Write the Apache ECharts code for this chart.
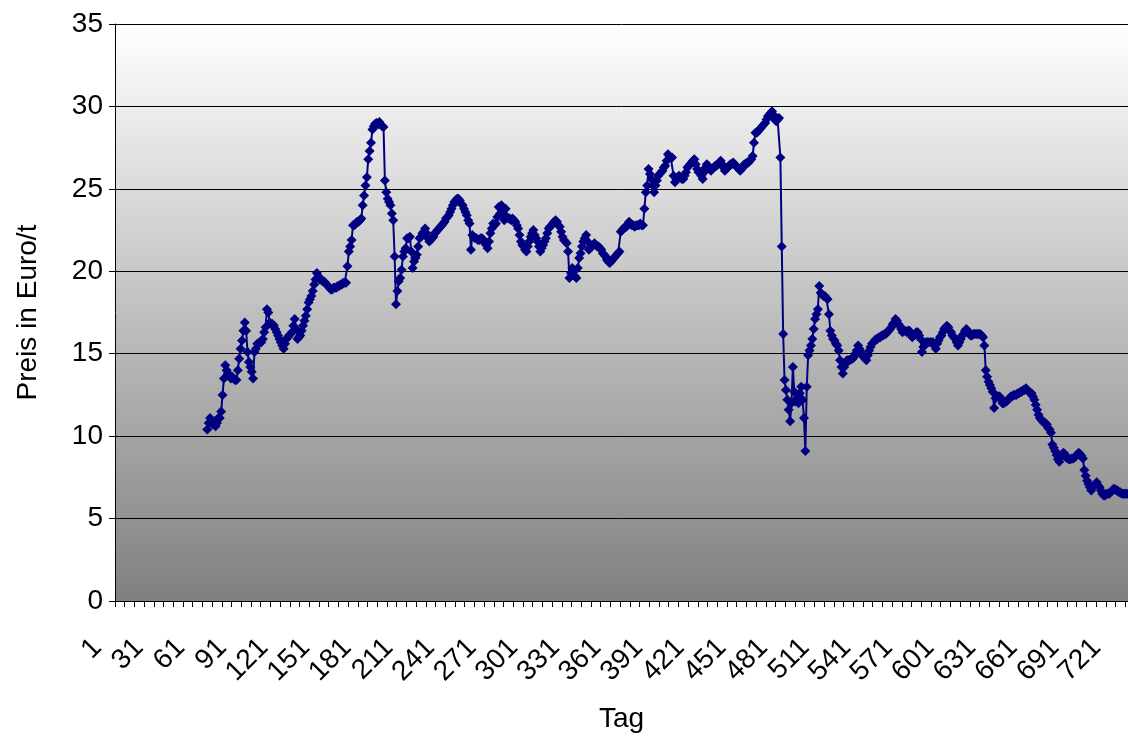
<!DOCTYPE html>
<html><head><meta charset="utf-8">
<script src="https://cdn.jsdelivr.net/npm/echarts@6/dist/echarts.min.js"></script>
<style>html,body{margin:0;padding:0;background:#fff}#c{width:1128px;height:742px}</style>
</head><body><div id="c"></div>
<script>
const lastDay = 730;
const dataStartDay = 67;
const yTicks = [0, 5, 10, 15, 20, 25, 30, 35];
const prices = [
10.4,10.8,11.1,10.9,10.7,10.9,10.6,10.8,11.1,11.1,
11.5,12.5,13.5,14.3,14.0,13.8,13.7,13.5,13.6,13.5,
13.4,13.4,14.0,14.7,15.3,15.8,16.4,16.9,16.4,15.1,
14.5,14.2,13.9,13.5,15.1,15.3,15.6,15.6,15.7,15.7,
15.9,16.3,16.6,17.7,17.5,16.9,16.8,16.8,16.7,16.5,
16.3,16.1,15.9,15.7,15.5,15.3,15.6,15.9,16.0,16.1,
16.2,16.3,16.7,17.1,16.5,15.9,16.0,16.1,16.4,16.7,
17.0,17.3,17.7,18.1,18.3,18.5,18.8,19.2,19.5,19.9,
19.7,19.5,19.5,19.4,19.4,19.3,19.2,19.1,19.0,18.9,
18.9,19.0,19.0,19.0,19.1,19.1,19.2,19.2,19.3,19.3,
19.3,20.3,21.2,21.5,21.9,22.8,22.8,22.9,23.0,23.0,
23.1,23.2,24.0,24.6,25.2,25.7,26.8,27.3,27.8,28.6,
28.8,28.95,29.0,28.9,29.05,28.9,28.8,28.75,25.5,24.8,
24.4,24.2,24.0,23.5,23.1,20.9,18.0,18.8,19.4,19.6,
20.1,20.9,21.2,21.4,22.0,22.0,22.1,21.2,20.2,20.6,
20.8,21.0,21.5,22.0,22.1,22.3,22.4,22.6,22.3,22.0,
21.8,21.9,22.0,22.1,22.3,22.4,22.5,22.6,22.7,22.8,
22.9,23.0,23.2,23.3,23.4,23.6,23.8,24.0,24.2,24.3,
24.4,24.4,24.3,24.1,24.0,23.8,23.6,23.4,23.1,22.9,
21.3,22.2,22.1,22.0,22.0,21.9,21.9,22.0,22.0,21.9,
21.7,21.6,21.4,21.8,22.3,22.6,22.9,22.8,22.9,23.3,
23.9,23.5,24.0,23.4,23.1,23.8,23.3,23.2,23.2,23.1,
23.2,23.1,23.0,22.8,22.6,22.2,21.8,21.6,21.5,21.3,
21.2,21.5,21.8,22.1,22.3,22.5,22.2,22.0,21.8,21.5,
21.2,21.4,21.6,21.8,22.0,22.3,22.6,22.7,22.8,22.9,
23.0,23.1,23.0,22.8,22.7,22.4,22.1,21.9,21.8,21.7,
21.2,19.6,19.9,20.2,20.0,19.7,19.6,20.2,20.8,21.1,
21.5,21.8,22.0,22.2,21.8,21.3,21.4,21.5,21.6,21.7,
21.6,21.5,21.5,21.4,21.3,21.1,21.0,20.9,20.7,20.6,
20.5,20.6,20.7,20.8,20.9,21.0,21.1,21.2,22.4,22.5,
22.6,22.7,22.7,22.8,23.0,22.9,22.8,22.8,22.7,22.8,
22.8,22.8,22.9,22.8,22.8,23.8,24.8,25.2,26.2,25.9,
25.6,25.2,24.8,25.2,25.5,25.8,25.9,26.0,26.1,26.3,
26.4,26.7,27.1,27.0,26.9,26.9,25.8,25.4,25.6,25.7,
25.8,25.7,25.6,25.6,25.8,26.0,26.3,26.4,26.5,26.6,
26.7,26.8,26.5,26.2,26.0,26.0,25.8,25.6,26.0,26.3,
26.5,26.4,26.2,26.1,26.2,26.3,26.4,26.4,26.5,26.6,
26.7,26.5,26.3,26.1,26.2,26.3,26.4,26.5,26.5,26.6,
26.5,26.4,26.3,26.2,26.1,26.2,26.3,26.5,26.5,26.6,
26.6,26.7,26.8,27.0,27.8,28.4,28.4,28.5,28.6,28.7,
28.8,28.9,29.0,29.2,29.4,29.5,29.6,29.7,29.5,29.2,
29.1,29.2,29.3,26.9,21.5,16.2,13.4,12.8,12.2,11.6,
10.9,12.0,14.2,12.7,12.1,12.3,12.0,12.6,13.0,12.2,
11.1,9.1,13.0,14.9,15.2,15.5,15.9,16.5,17.1,17.4,
17.7,19.1,18.7,18.6,18.5,18.5,18.4,18.3,17.4,16.4,
16.1,15.9,15.8,15.6,15.5,15.2,14.6,14.2,13.8,14.2,
14.4,14.6,14.6,14.6,14.7,14.7,14.8,15.0,15.2,15.5,
15.3,15.1,14.9,14.8,14.7,14.6,14.9,15.2,15.4,15.6,
15.7,15.8,15.9,15.9,16.0,16.0,16.1,16.1,16.2,16.2,
16.3,16.4,16.5,16.6,16.8,16.9,17.1,17.0,16.8,16.7,
16.5,16.3,16.4,16.4,16.3,16.4,16.4,16.2,16.0,16.1,
16.2,16.3,16.3,16.1,15.9,15.1,15.4,15.6,15.7,15.7,
15.7,15.7,15.7,15.7,15.5,15.3,15.6,15.8,16.0,16.1,
16.3,16.5,16.6,16.7,16.6,16.4,16.3,16.1,16.0,15.9,
15.7,15.5,15.7,15.9,16.1,16.2,16.4,16.5,16.4,16.2,
16.1,16.1,16.2,16.2,16.2,16.2,16.2,16.2,16.1,16.0,
15.5,14.0,13.6,13.3,13.1,12.9,12.7,11.7,12.3,12.4,
12.4,12.4,12.2,12.0,12.0,12.1,12.1,12.2,12.3,12.4,
12.4,12.5,12.5,12.5,12.6,12.6,12.7,12.7,12.8,12.8,
12.9,12.8,12.7,12.6,12.6,12.4,12.2,11.9,11.6,11.3,
11.1,11.0,10.9,10.8,10.8,10.7,10.5,10.4,10.2,9.5,
9.3,9.1,8.85,8.6,8.45,8.7,8.9,9.0,8.9,8.7,
8.65,8.6,8.6,8.65,8.65,8.7,8.8,8.9,9.0,8.9,
8.8,8.65,7.95,7.6,7.3,7.1,6.9,6.7,6.9,7.0,
7.1,7.2,7.0,6.9,6.7,6.5,6.4,6.4,6.5,6.5,
6.5,6.6,6.7,6.8,6.8,6.7,6.7,6.6,6.6,6.5,
6.5,6.5,6.5,6.5
];
const days = [];
for (let d = 1; d <= lastDay; d++) days.push(String(d));
const seriesData = days.map((d, i) => {
  const k = i + 1 - dataStartDay;
  return (k >= 0 && k < prices.length) ? prices[k] : null;
});
const FONT = "'Liberation Sans', Arial, sans-serif";
const chart = echarts.init(document.getElementById('c'), null, {renderer: 'canvas'});
chart.setOption({
  animation: false,
  backgroundColor: '#ffffff',
  grid: {
    left: 115, right: 0, top: 24, bottom: 141, show: true, borderWidth: 0,
    backgroundColor: {type: 'linear', x: 0, y: 0, x2: 0, y2: 1,
      colorStops: [{offset: 0, color: '#ffffff'}, {offset: 1, color: '#808080'}]}
  },
  xAxis: {
    type: 'category', data: days, boundaryGap: true,
    name: 'Tag', nameLocation: 'middle', nameGap: 104,
    nameTextStyle: {fontFamily: FONT, fontSize: 28, color: '#000'},
    axisLine: {lineStyle: {color: '#000', width: 1}},
    axisTick: {show: true, interval: 6, length: 6, lineStyle: {color: '#000'}},
    axisLabel: {interval: 29, rotate: 45, margin: 24, padding: [0, 26, 0, 0],
      fontFamily: FONT, fontSize: 28, color: '#000'},
    splitLine: {show: false}
  },
  yAxis: {
    type: 'value', min: yTicks[0], max: yTicks[yTicks.length - 1], interval: 5,
    name: 'Preis in Euro/t', nameLocation: 'middle', nameGap: 73,
    nameTextStyle: {fontFamily: FONT, fontSize: 28, color: '#000'},
    axisLine: {show: true, lineStyle: {color: '#000', width: 1}},
    axisTick: {show: true, length: 6, lineStyle: {color: '#000'}},
    axisLabel: {fontFamily: FONT, fontSize: 28, color: '#000', margin: 12},
    splitLine: {show: true, lineStyle: {color: '#000', width: 1}}
  },
  series: [{
    type: 'line', data: seriesData, showAllSymbol: true,
    symbol: 'diamond', symbolSize: 10, connectNulls: false,
    lineStyle: {color: '#000080', width: 2},
    itemStyle: {color: '#000080'}
  }]
});
</script>
</body></html>
